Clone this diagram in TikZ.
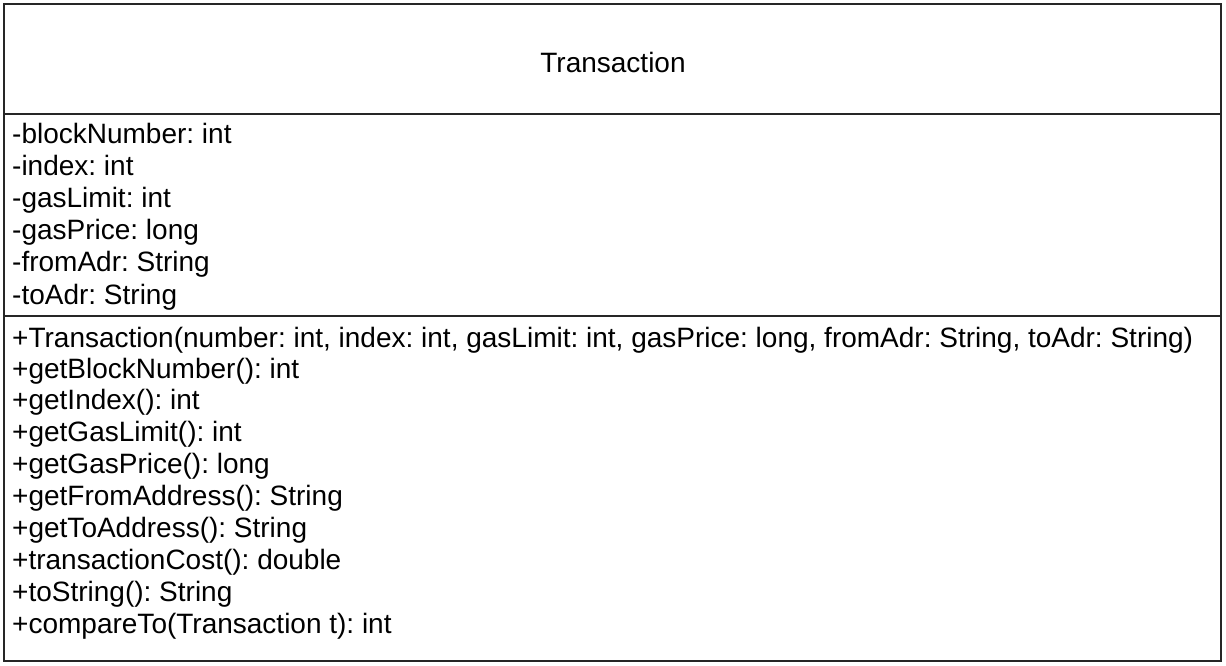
\documentclass[tikz,border=0pt]{standalone}
\usepackage{fontspec}
\setmainfont{Liberation Sans}
\frenchspacing
\begin{document}
\begin{tikzpicture}[x=1pt,y=-1pt,
  box/.style={draw=black!85,line width=1.6pt},
  member/.style={anchor=base west,inner sep=0pt,font=\fontsize{28}{32}\selectfont},
  title/.style={inner sep=0pt,font=\fontsize{28}{32}\selectfont}]
\useasboundingbox (0,0) rectangle (1226,666);
\draw[box] (4,4) rectangle (1221,661);
\draw[box] (4,114) -- (1221,114);
\draw[box] (4,316) -- (1221,316);
\node[title] (t) at (613,62) {Transaction};
\foreach \txt [count=\i] in {-blockNumber: int,-index: int,-gasLimit: int,-gasPrice: long,-fromAdr: String,-toAdr: String}
  \node[member] (a\i) at (12,{133+10+(\i-1)*32.2}) {\txt};
\node[member] (m1) at (12,{337+10}) {+Transaction(number: int, index: int, gasLimit: int, gasPrice: long, fromAdr: String, toAdr: String)};
\foreach \txt [count=\i] in {+getBlockNumber(): int,+getIndex(): int,+getGasLimit(): int,+getGasPrice(): long,+getFromAddress(): String,+getToAddress(): String,+transactionCost(): double,+toString(): String,+compareTo(Transaction t): int}
  \node[member] (mm\i) at (12,{368+10+(\i-1)*31.9}) {\txt};
\end{tikzpicture}
\end{document}
